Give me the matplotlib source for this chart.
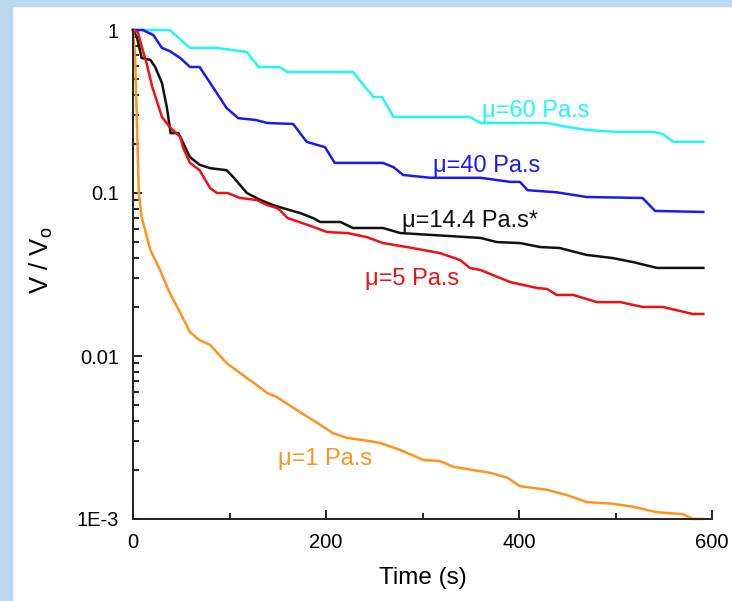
import matplotlib
matplotlib.use('Agg')
from matplotlib import pyplot as plt
from matplotlib.patches import Rectangle
from matplotlib.ticker import FixedLocator, LogLocator, NullFormatter

# mu = 60 Pa.s
t60 = [0, 38, 59, 87, 118, 130, 152, 160, 228, 249, 258, 270, 349, 360, 429, 450, 470, 501, 539, 549, 560, 591]
v60 = [1, 1, 0.776, 0.776, 0.733, 0.593, 0.593, 0.552, 0.552, 0.388, 0.388, 0.293, 0.293, 0.269, 0.269,
       0.254, 0.244, 0.237, 0.237, 0.230, 0.206, 0.206]
# mu = 40 Pa.s
t40 = [0, 10, 21, 30, 38, 49, 59, 69, 80, 97, 109, 128, 139, 166, 180, 199, 209, 259, 270, 280, 308, 360,
       391, 401, 409, 439, 470, 528, 541, 591]
v40 = [1, 1, 0.932, 0.776, 0.743, 0.673, 0.593, 0.593, 0.473, 0.332, 0.288, 0.280, 0.269, 0.265, 0.206,
       0.191, 0.153, 0.153, 0.144, 0.129, 0.124, 0.124, 0.117, 0.117, 0.104, 0.101, 0.0945, 0.0932,
       0.0776, 0.0765]
# mu = 14.4 Pa.s
t14 = [0, 4, 9, 18, 23, 30, 35, 39, 47, 52, 59, 69, 80, 97, 104, 118, 132, 145, 155, 173, 187, 194, 215,
       228, 259, 277, 360, 377, 401, 422, 442, 470, 497, 518, 543, 591]
v14 = [1, 0.906, 0.673, 0.655, 0.593, 0.473, 0.337, 0.233, 0.233, 0.203, 0.166, 0.149, 0.142, 0.138,
       0.125, 0.100, 0.0906, 0.0844, 0.0809, 0.0754, 0.0700, 0.0664, 0.0664, 0.0610, 0.0610, 0.0568,
       0.0530, 0.0500, 0.0493, 0.0466, 0.0460, 0.0417, 0.0399, 0.0377, 0.0347, 0.0347]
# mu = 5 Pa.s
t5 = [0, 5, 10, 14, 20, 25, 30, 38, 49, 52, 59, 69, 80, 87, 98, 111, 128, 139, 149, 152, 160, 187, 201,
      222, 242, 259, 284, 318, 339, 349, 360, 391, 419, 429, 439, 456, 481, 505, 528, 549, 580, 591]
v5 = [1, 0.972, 0.754, 0.628, 0.447, 0.362, 0.293, 0.254, 0.221, 0.189, 0.153, 0.138, 0.107, 0.100,
      0.100, 0.0932, 0.0906, 0.0844, 0.0809, 0.0787, 0.0703, 0.0619, 0.0576, 0.0568, 0.0537, 0.0493,
      0.0466, 0.0428, 0.0388, 0.0347, 0.0337, 0.0284, 0.0261, 0.0258, 0.0237, 0.0237, 0.0214, 0.0214,
      0.0200, 0.0200, 0.0181, 0.0181]
# mu = 1 Pa.s
t1 = [0, 2, 4, 6, 9, 18, 28, 38, 49, 59, 69, 80, 97, 111, 128, 139, 149, 160, 173, 191, 207, 222, 238,
      256, 277, 301, 318, 332, 370, 388, 401, 429, 450, 470, 497, 518, 543, 570, 580, 591]
v1 = [1, 0.72, 0.28, 0.100, 0.0713, 0.0447, 0.0337, 0.0244, 0.0184, 0.0140, 0.0125, 0.0117, 0.00905,
      0.00786, 0.00664, 0.00593, 0.00560, 0.00508, 0.00453, 0.00388, 0.00337, 0.00314, 0.00305,
      0.00293, 0.00265, 0.00230, 0.00227, 0.00209, 0.00192, 0.00179, 0.00159, 0.00151, 0.00140,
      0.00127, 0.00124, 0.00119, 0.00110, 0.00107, 0.00100, 0.00100]

labels = ['\u03bc=60 Pa.s', '\u03bc=40 Pa.s', '\u03bc=14.4 Pa.s*', '\u03bc=5 Pa.s', '\u03bc=1 Pa.s']
colors = ['#22f5f5', '#1a1aee', '#111111', '#ee1111', '#ff9320']
label_x = [362, 311, 279, 240, 150]
label_y = [0.293, 0.135, 0.0619, 0.0273, 0.00214]

plt.rcParams['font.family'] = ['Liberation Sans', 'DejaVu Sans']
plt.rcParams['font.size'] = 14

fig = plt.figure(figsize=(7.32, 6.01), dpi=100)
# light blue frame on top and left
fig.patches.append(Rectangle((0, 1 - 6 / 601), 1, 6 / 601, transform=fig.transFigure,
                             color='#bcd8ee', zorder=0))
fig.patches.append(Rectangle((0, 0), 12 / 732, 1, transform=fig.transFigure,
                             color='#bcd8ee', zorder=0))

ax = fig.add_axes([133 / 732, 1 - 519 / 601, 579 / 732, 489 / 601])
series = [(t60, v60), (t40, v40), (t14, v14), (t5, v5), (t1, v1)]
for (t, v), c in zip(series, colors):
    ax.plot(t, v, color=c, lw=1.8, clip_on=False)

for s, x, y, c in zip(labels, label_x, label_y, colors):
    ax.text(x, y, s, color=c, fontsize=17, va='baseline', ha='left')

ax.set_yscale('log')
ax.set_xlim(0, 600)
ax.set_ylim(1e-3, 1)
ax.set_xticks([0, 200, 400, 600])
ax.xaxis.set_minor_locator(FixedLocator([100, 300, 500]))
ax.set_yticks([1e-3, 1e-2, 1e-1, 1])
ax.set_yticklabels(['1E-3', '0.01', '0.1', '1'])
ax.yaxis.set_minor_locator(LogLocator(base=10, subs=range(2, 10)))
ax.yaxis.set_minor_formatter(NullFormatter())

for side in ['top', 'right']:
    ax.spines[side].set_visible(False)
for side in ['left', 'bottom']:
    ax.spines[side].set_linewidth(1.4)
    ax.spines[side].set_color('#222222')
ax.tick_params(which='major', direction='in', length=6.5, width=1.2, labelsize=14.5, pad=10)
ax.tick_params(which='minor', direction='in', length=4, width=1.2)

ax.set_xlabel('Time (s)', fontsize=17.5)
ax.set_ylabel('V / V$_{\\mathregular{o}}$', fontsize=18.5)
ax.xaxis.set_label_coords(0.5, -0.098)
ax.yaxis.set_label_coords(-0.134, 0.528)

fig.savefig('out.png', dpi=100)
